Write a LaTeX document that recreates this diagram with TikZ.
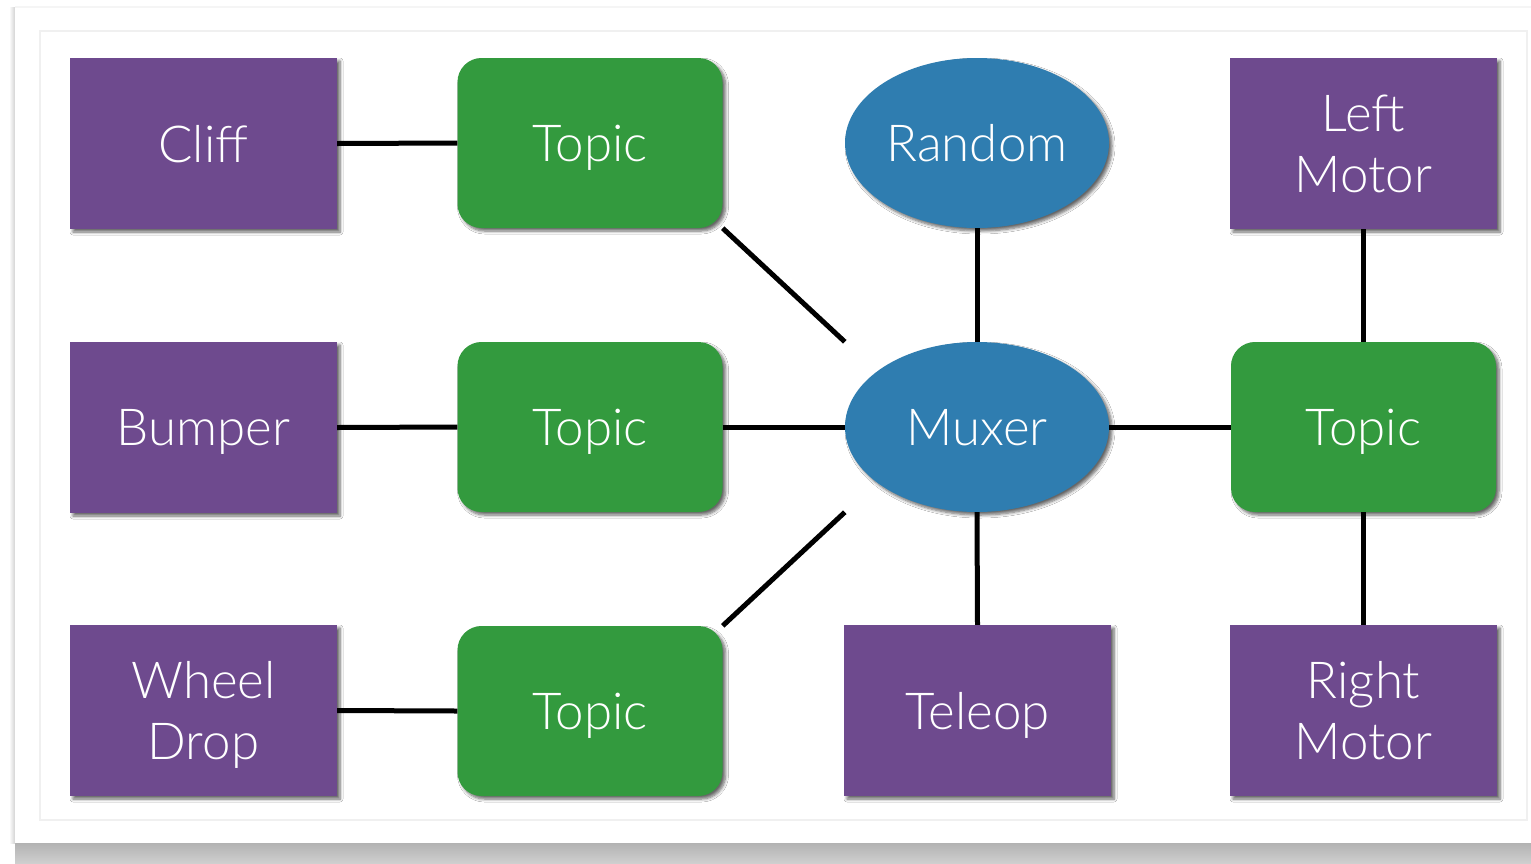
\documentclass[tikz,border=0pt]{standalone}
\usepackage{fontspec}
\setmainfont{Lato}[UprightFont=* Light]
\usetikzlibrary{shapes.geometric,shadows.blur}
\definecolor{boxpurple}{HTML}{6E4A8E}
\definecolor{topicgreen}{HTML}{339A3E}
\definecolor{nodeblue}{HTML}{2F7DB0}
\tikzset{
  label text/.style={text=white,font=\fontsize{51}{61}\selectfont,align=center,inner sep=0pt,text depth=0pt},
  one line/.style={text depth=-6pt},
  soft shadow/.style={blur shadow={shadow xshift=3pt,shadow yshift=-3pt,shadow blur radius=3pt,shadow blur steps=6,shadow opacity=60}},
  device/.style={label text,rectangle,fill=boxpurple,minimum width=267pt,minimum height=171pt,soft shadow},
  topic/.style={label text,one line,rectangle,rounded corners=24pt,fill=topicgreen,minimum width=265pt,minimum height=170pt,soft shadow},
  proc/.style={label text,one line,ellipse,fill=nodeblue,minimum width=264pt,minimum height=170pt,soft shadow},
  link/.style={line width=5pt,black}
}
\begin{document}
\begin{tikzpicture}[x=1pt,y=-1pt]
  % page and card
  \useasboundingbox (0,0) rectangle (1531,863);
  \fill[white] (0,0) rectangle (1531,863);
  \shade[top color=gray!60,bottom color=gray!38] (15,843) rectangle (1531,863);
  \shade[left color=white,right color=gray!35] (9,7) rectangle (15,843);
  \fill[white] (15,7) rectangle (1531,843);
  \draw[gray!8,line width=1.5pt] (15,7) -- (1531,7);
  \draw[gray!12,line width=1.5pt] (40,31) rectangle (1527,820);

  % left column: sensors
  \node[device,one line] (cliff)  at (203.5,143.5) {Cliff};
  \node[device,one line] (bumper) at (203.5,427.5) {Bumper};
  \node[device] (wheel)  at (203.5,710.5) {Wheel\\Drop};

  % topics
  \node[topic] (t1) at (590,143) {Topic};
  \node[topic] (t2) at (590,427) {Topic};
  \node[topic] (t3) at (590,711) {Topic};

  % middle column
  \node[proc] (rand) at (977,143) {Random};
  \node[proc] (mux)  at (977,427) {Muxer};
  \node[device,one line] (tele) at (977.5,710.5) {Teleop};

  % right column: motors
  \node[device] (lm) at (1363.5,143.5) {Left\\Motor};
  \node[topic]  (t4) at (1363.5,427) {Topic};
  \node[device] (rm) at (1363.5,710.5) {Right\\Motor};

  % connections
  \draw[link] (cliff.east)  -- (t1.west);
  \draw[link] (bumper.east) -- (t2.west);
  \draw[link] (wheel.east)  -- (t3.west);
  \draw[link] (t1.south east) -- (mux.west |- mux.north);
  \draw[link] (t2.east) -- (mux.west);
  \draw[link] (t3.north east) -- (mux.west |- mux.south);
  \draw[link] (rand.south) -- (mux.north);
  \draw[link] (mux.south) -- (tele.north);
  \draw[link] (mux.east) -- (t4.west);
  \draw[link] (lm.south) -- (t4.north);
  \draw[link] (t4.south) -- (rm.north);
\end{tikzpicture}
\end{document}
